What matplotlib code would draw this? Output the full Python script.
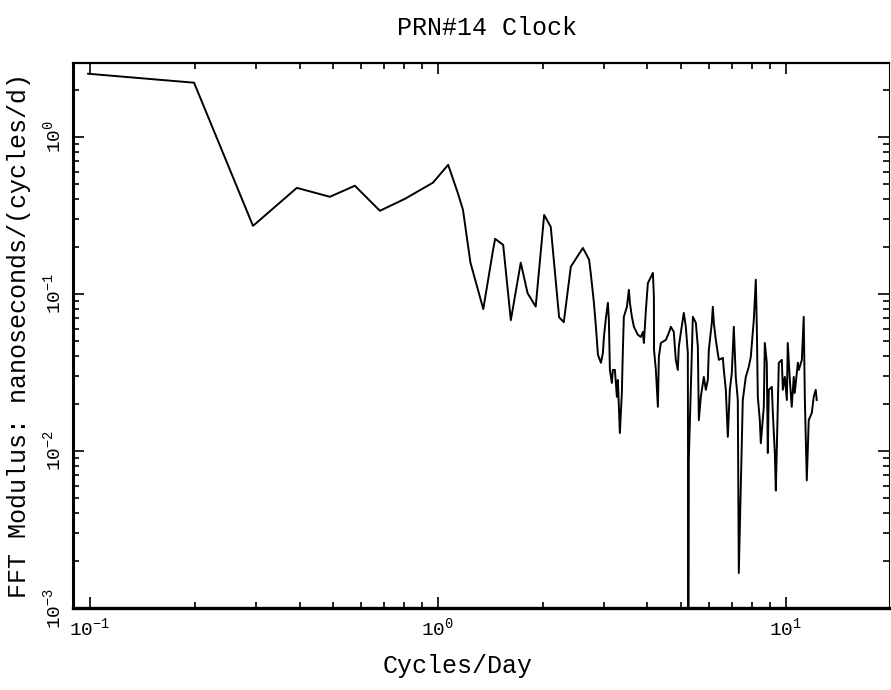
import numpy as np
import matplotlib
matplotlib.use("Agg")
import matplotlib.pyplot as plt
from matplotlib.ticker import LogLocator, FixedLocator, NullFormatter

# FFT modulus of the PRN#14 clock, vertices
freq = [0.0987, 0.199, 0.294, 0.393, 0.489, 0.577, 0.681, 0.804, 0.967, 1.07,
        1.14, 1.18, 1.24, 1.35, 1.44, 1.46, 1.54, 1.62, 1.73, 1.81,
        1.91, 2.02, 2.11, 2.23, 2.30, 2.41, 2.61, 2.72, 2.753, 2.808,
        2.845, 2.884, 2.941, 2.980, 3.000, 3.040, 3.080, 3.100, 3.121, 3.162,
        3.183, 3.226, 3.269, 3.290, 3.312, 3.334, 3.378, 3.401, 3.423, 3.493,
        3.539, 3.563, 3.610, 3.659, 3.757, 3.832, 3.883, 3.909, 3.961, 4.013,
        4.094, 4.149, 4.176, 4.180, 4.231, 4.288, 4.316, 4.373, 4.520, 4.611,
        4.672, 4.764, 4.828, 4.892, 4.925, 4.990, 5.091, 5.159, 5.228, 5.245,
        5.262, 5.333, 5.405, 5.513, 5.587, 5.623, 5.698, 5.812, 5.890, 5.968,
        6.007, 6.128, 6.169, 6.210, 6.292, 6.419, 6.592, 6.635, 6.723, 6.813,
        6.904, 6.995, 7.088, 7.181, 7.278, 7.326, 7.522, 7.674, 7.828, 7.931,
        8.091, 8.199, 8.254, 8.309, 8.419, 8.475, 8.645, 8.703, 8.818, 8.877,
        8.935, 9.117, 9.177, 9.299, 9.361, 9.484, 9.548, 9.739, 9.804, 9.934,
        10.07, 10.13, 10.27, 10.40, 10.54, 10.61, 10.83, 10.90, 11.12, 11.26,
        11.34, 11.49, 11.64, 11.88, 12.03, 12.19, 12.27]
modulus = [2.52, 2.21, 0.271, 0.473, 0.415, 0.488, 0.338, 0.403, 0.51, 0.663,
           0.44, 0.343, 0.158, 0.080, 0.19, 0.224, 0.205, 0.068, 0.158, 0.101,
           0.083, 0.318, 0.267, 0.071, 0.066, 0.149, 0.196, 0.165, 0.132, 0.0877,
           0.0617, 0.0409, 0.0364, 0.0421, 0.0532, 0.0703, 0.0877, 0.0683, 0.0328, 0.0271,
           0.0328, 0.0328, 0.0221, 0.0283, 0.0191, 0.0130, 0.0234, 0.0440, 0.0714, 0.0827,
           0.106, 0.0877, 0.0714, 0.0617, 0.0548, 0.0532, 0.0573, 0.0487, 0.0791, 0.117,
           0.128, 0.136, 0.0957, 0.0440, 0.0328, 0.0191, 0.0397, 0.0487, 0.0509, 0.0565,
           0.0617, 0.0573, 0.0380, 0.0328, 0.0459, 0.0565, 0.0757, 0.0617, 0.0421, 0.00102,
           0.0088, 0.0256, 0.0714, 0.0654, 0.0459, 0.0157, 0.0221, 0.0296, 0.0245, 0.0283,
           0.0440, 0.0654, 0.0827, 0.0654, 0.0509, 0.0380, 0.0391, 0.0328, 0.0245, 0.0123,
           0.0245, 0.0314, 0.0617, 0.0296, 0.0211, 0.00167, 0.0211, 0.0296, 0.0343, 0.0397,
           0.0683, 0.123, 0.0617, 0.0221, 0.0157, 0.0112, 0.0191, 0.0487, 0.0364, 0.0097,
           0.0245, 0.0256, 0.0175, 0.0097, 0.0056, 0.0191, 0.0364, 0.0380, 0.0245, 0.0296,
           0.0211, 0.0487, 0.0283, 0.0191, 0.0296, 0.0234, 0.0364, 0.0328, 0.0380, 0.0714,
           0.0221, 0.0065, 0.0157, 0.0175, 0.0221, 0.0245, 0.0211]

x_ticks = [0.1, 1, 10]
x_labels = [r"$10^{-1}$", r"$10^{0}$", r"$10^{1}$"]
y_ticks = [1e-3, 1e-2, 1e-1, 1]
y_labels = [r"$10^{-3}$", r"$10^{-2}$", r"$10^{-1}$", r"$10^{0}$"]

plt.rcParams["font.family"] = "Liberation Mono"
plt.rcParams["mathtext.fontset"] = "custom"
plt.rcParams["mathtext.rm"] = "Liberation Mono"
plt.rcParams["mathtext.it"] = "Liberation Mono"
plt.rcParams["mathtext.bf"] = "Liberation Mono"

fig = plt.figure(figsize=(8.91, 6.9), dpi=100)
ax = fig.add_axes([73 / 891, 82 / 690, 816 / 891, 545 / 690])

ax.plot(freq, modulus, color="black", lw=1.4)

ax.set_xscale("log")
ax.set_yscale("log")
ax.set_xlim(0.0893, 19.8)
ax.set_ylim(1e-3, 2.95)

ax.xaxis.set_major_locator(FixedLocator(x_ticks))
ax.set_xticklabels(x_labels, fontsize=14)
ax.xaxis.set_minor_locator(LogLocator(base=10, subs=np.arange(2, 10)))
ax.xaxis.set_minor_formatter(NullFormatter())
ax.yaxis.set_major_locator(FixedLocator(y_ticks))
ax.set_yticklabels(y_labels, fontsize=14, rotation=90, va="center")
ax.yaxis.set_minor_locator(LogLocator(base=10, subs=np.arange(2, 10)))
ax.yaxis.set_minor_formatter(NullFormatter())

ax.tick_params(which="both", direction="in", top=True, right=True, width=1.2)
ax.tick_params(which="major", length=8, pad=6)
ax.tick_params(which="minor", length=4)

ax.spines["left"].set_linewidth(2.2)
ax.spines["bottom"].set_linewidth(2.4)
ax.spines["top"].set_linewidth(1.6)
ax.spines["right"].set_linewidth(0.8)

ax.set_xlabel("Cycles/Day", fontsize=18)
ax.xaxis.set_label_coords((458 - 73) / 816, -(654 - 608) / 545)
ax.set_ylabel("FFT Modulus: nanoseconds/(cycles/d)", fontsize=18)
ax.yaxis.set_label_coords(-(73 - 31) / 816, 0.5)

fig.text(487 / 891, 1 - 28 / 690, "PRN#14 Clock", fontsize=18,
         ha="center", va="center")

fig.savefig("out.png", dpi=100)
